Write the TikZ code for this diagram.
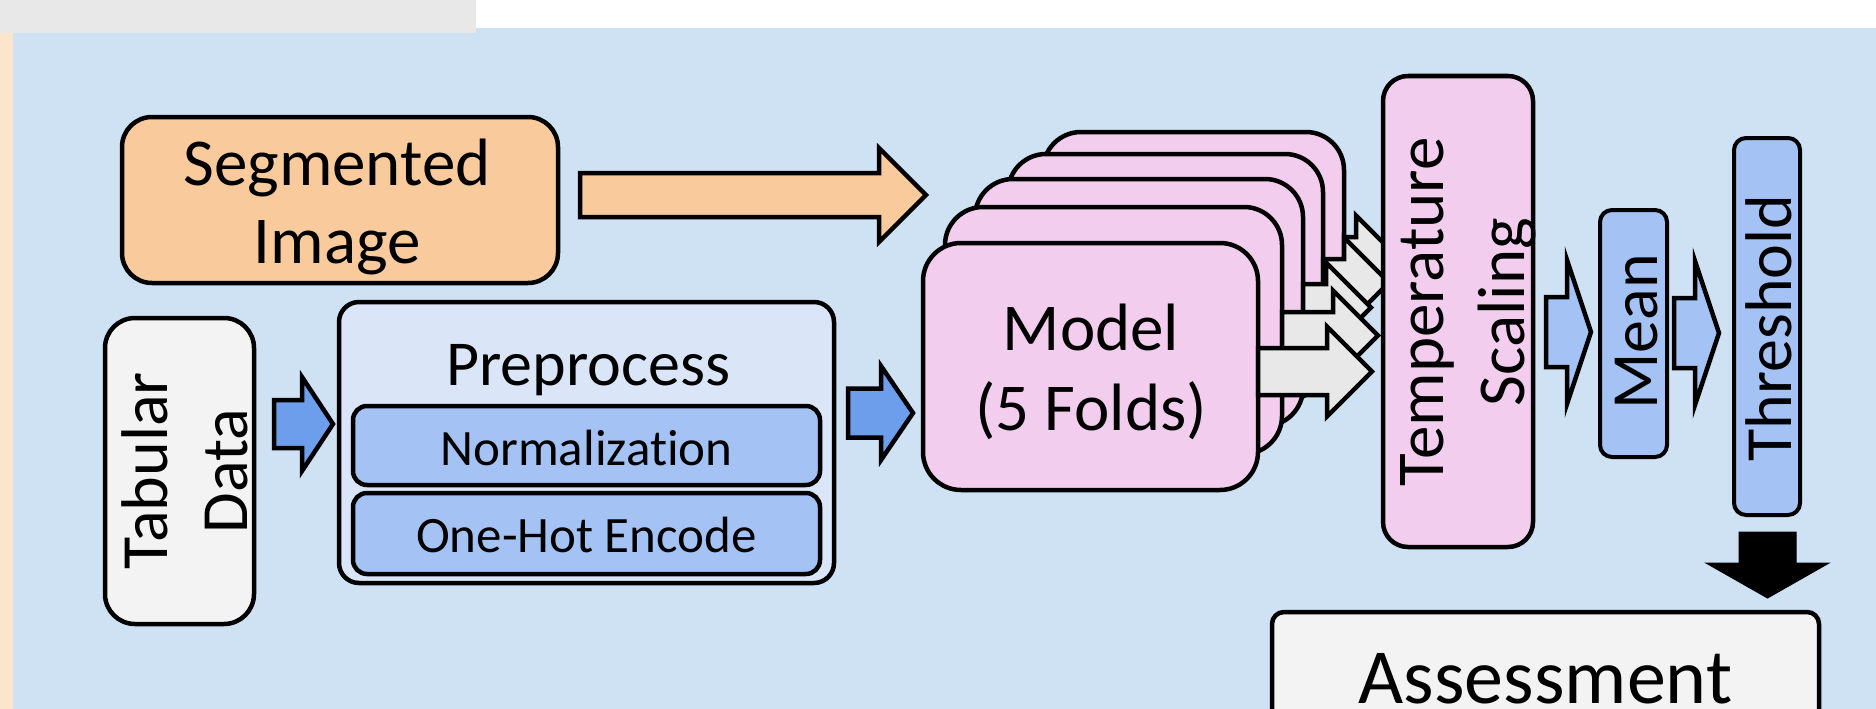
\documentclass[tikz,border=0pt]{standalone}
\usepackage{fontspec}
\setmainfont{Carlito}[Ligatures=NoCommon]
\usetikzlibrary{calc}

\definecolor{bgblue}{HTML}{CFE2F3}
\definecolor{topgray}{HTML}{E8E8E8}
\definecolor{peach}{HTML}{FCE5CD}
\definecolor{segorange}{HTML}{F9CB9C}
\definecolor{lightgray}{HTML}{F3F3F3}
\definecolor{prefill}{HTML}{DAE6F8}
\definecolor{innerblue}{HTML}{A4C2F4}
\definecolor{darkarrow}{HTML}{6D9EEB}
\definecolor{modelpink}{HTML}{F2CDEE}
\definecolor{arrowgray}{HTML}{E8E8E8}

\newcommand\fsz[2]{\fontsize{#1}{#2}\selectfont}

% block arrow pointing right: style, start, tip, shaft half, head half, head length
\newcommand\harrow[6]{%
  \draw[#1] let \p1=(#2), \p2=(#3) in
    (\x1,\y1+#4pt) -- (\x2-#6pt,\y1+#4pt) -- (\x2-#6pt,\y1+#5pt) -- (\x2,\y1)
    -- (\x2-#6pt,\y1-#5pt) -- (\x2-#6pt,\y1-#4pt) -- (\x1,\y1-#4pt) -- cycle;}
% block arrow pointing down (canvas y decreases downwards)
\newcommand\varrow[6]{%
  \draw[#1] let \p1=(#2), \p2=(#3) in
    (\x1-#4pt,\y1) -- (\x1-#4pt,\y2+#6pt) -- (\x1-#5pt,\y2+#6pt) -- (\x1,\y2)
    -- (\x1+#5pt,\y2+#6pt) -- (\x1+#4pt,\y2+#6pt) -- (\x1+#4pt,\y1) -- cycle;}

\tikzset{
  box/.style={draw=black, line width=4.5pt, rectangle, inner sep=0pt, outer sep=0pt},
  lbl/.style={inner sep=0pt, anchor=base, align=center, text=black},
  blockarrow/.style={draw=black, line width=4.5pt, line join=miter},
}

\begin{document}
\begin{tikzpicture}[x=1pt,y=-1pt]
\useasboundingbox (0,0) rectangle (1876,709);
\clip (0,0) rectangle (1876,709);

% page background bands
\fill[white] (0,0) rectangle (1876,709);
\fill[bgblue] (12.5,28) rectangle (1876,709);
\fill[topgray] (0,0) rectangle (476,32.7);
\fill[peach] (0,32.7) rectangle (12.5,709);

% segmented image input (label anchored on its last baseline)
\node[box, fill=segorange, rounded corners=30pt, minimum width=436pt, minimum height=166pt] (seg) at (340,200) {};
\node[lbl, font=\fsz{67}{78}] (segtxt) at (337,263) {Segmented\\Image};
\coordinate (segA) at (580,195);
\coordinate (segB) at (926,195);
\harrow{blockarrow, fill=segorange}{segA}{segB}{22}{47}{47}

% tabular data input
\node[box, fill=lightgray, rounded corners=30pt, minimum width=149pt, minimum height=306pt] (tab) at (179.5,471) {};
\node[lbl, rotate=90, font=\fsz{66}{80}] (tabtxt) at (247,471) {Tabular\\Data};
\coordinate (tabA) at (274,424);
\coordinate (tabB) at (333,424);
\harrow{blockarrow, fill=darkarrow}{tabA}{tabB}{24}{47}{31}

% preprocessing block
\node[box, fill=prefill, rounded corners=20pt, minimum width=495pt, minimum height=281pt] (pre) at (586.5,442.5) {};
\node[lbl, font=\fsz{64}{76}] (pretxt) at (588,385) {Preprocess};
\node[box, fill=innerblue, rounded corners=14pt, minimum width=467pt, minimum height=79pt] (norm) at (586.5,445.5) {};
\node[lbl, font=\fsz{51}{60}] (normtxt) at (586.5,465) {Normalization};
\node[box, fill=innerblue, rounded corners=14pt, minimum width=467pt, minimum height=81pt] (hot) at (586.5,533.5) {};
\node[lbl, font=\fsz{51}{60}] (hottxt) at (586.5,552) {One-Hot Encode};
\coordinate (preA) at (848,413);
\coordinate (preB) at (913,413);
\harrow{blockarrow, fill=darkarrow}{preA}{preB}{24.5}{47}{32}

% stack of five fold models, back to front, each with its output arrow
\tikzset{model/.style={box, fill=modelpink, rounded corners=38pt, minimum height=247pt}}
\node[model, minimum width=301pt] (m5) at (1193.5,255.5) {};
\coordinate (o5) at (1401,260.5);
\harrow{blockarrow, fill=arrowgray}{[yshift=-5pt]m5.east}{o5}{23.5}{45}{45}
\node[model, minimum width=315pt] (m4) at (1165.5,277.5) {};
\coordinate (o4) at (1389,282.5);
\harrow{blockarrow, fill=arrowgray}{[yshift=-5pt]m4.east}{o4}{23.5}{45}{45}
\node[model, minimum width=328pt] (m3) at (1139,302.5) {};
\coordinate (o3) at (1371,307.5);
\harrow{blockarrow, fill=arrowgray}{[yshift=-5pt]m3.east}{o3}{23.5}{45}{45}
\node[model, minimum width=337pt] (m2) at (1113.5,330.5) {};
\coordinate (o2) at (1378,335.5);
\harrow{blockarrow, fill=arrowgray}{[yshift=-5pt]m2.east}{o2}{23.5}{45}{45}
\node[model, minimum width=335pt] (m1) at (1090.5,366.5) {};
\coordinate (o1) at (1372,371.5);
\harrow{blockarrow, fill=arrowgray}{[yshift=-5pt]m1.east}{o1}{23.5}{45}{45}
\node[lbl, font=\fsz{67}{80}] (modeltxt) at (1091,430) {Model\\(5 Folds)};

% calibration
\node[box, fill=modelpink, rounded corners=25pt, minimum width=150pt, minimum height=471pt] (temp) at (1458,311.5) {};
\node[lbl, rotate=90, font=\fsz{67}{81}] (temptxt) at (1524,312) {Temperature\\Scaling};
\coordinate (tA) at (1546,332);
\coordinate (tB) at (1591,332);
\harrow{blockarrow, fill=innerblue}{tA}{tB}{35}{72}{24}

% ensemble mean
\node[box, line width=4pt, fill=innerblue, rounded corners=12pt, minimum width=67pt, minimum height=247pt] (mean) at (1633.5,333.5) {};
\node[lbl, rotate=90, font=\fsz{66}{80}] (meantxt) at (1657,332) {Mean};
\coordinate (mA) at (1674,333);
\coordinate (mB) at (1719,333);
\harrow{blockarrow, fill=innerblue}{mA}{mB}{35}{72}{24}

% decision threshold
\node[box, line width=4pt, fill=innerblue, rounded corners=12pt, minimum width=66pt, minimum height=377pt] (thr) at (1767,326.5) {};
\node[lbl, rotate=90, font=\fsz{66}{80}] (thrtxt) at (1791,328) {Threshold};
\coordinate (dA) at (1767.5,532);
\coordinate (dB) at (1767.5,598);
\varrow{fill=black, draw=black, line width=1pt}{dA}{dB}{28.5}{61.5}{35}

% evaluation
\node[box, fill=lightgray, rounded corners=12pt, minimum width=547pt, minimum height=150pt] (assess) at (1545.5,687) {};
\node[lbl, font=\fsz{78}{94}] (assesstxt) at (1545.5,703) {Assessment};
\end{tikzpicture}
\end{document}
